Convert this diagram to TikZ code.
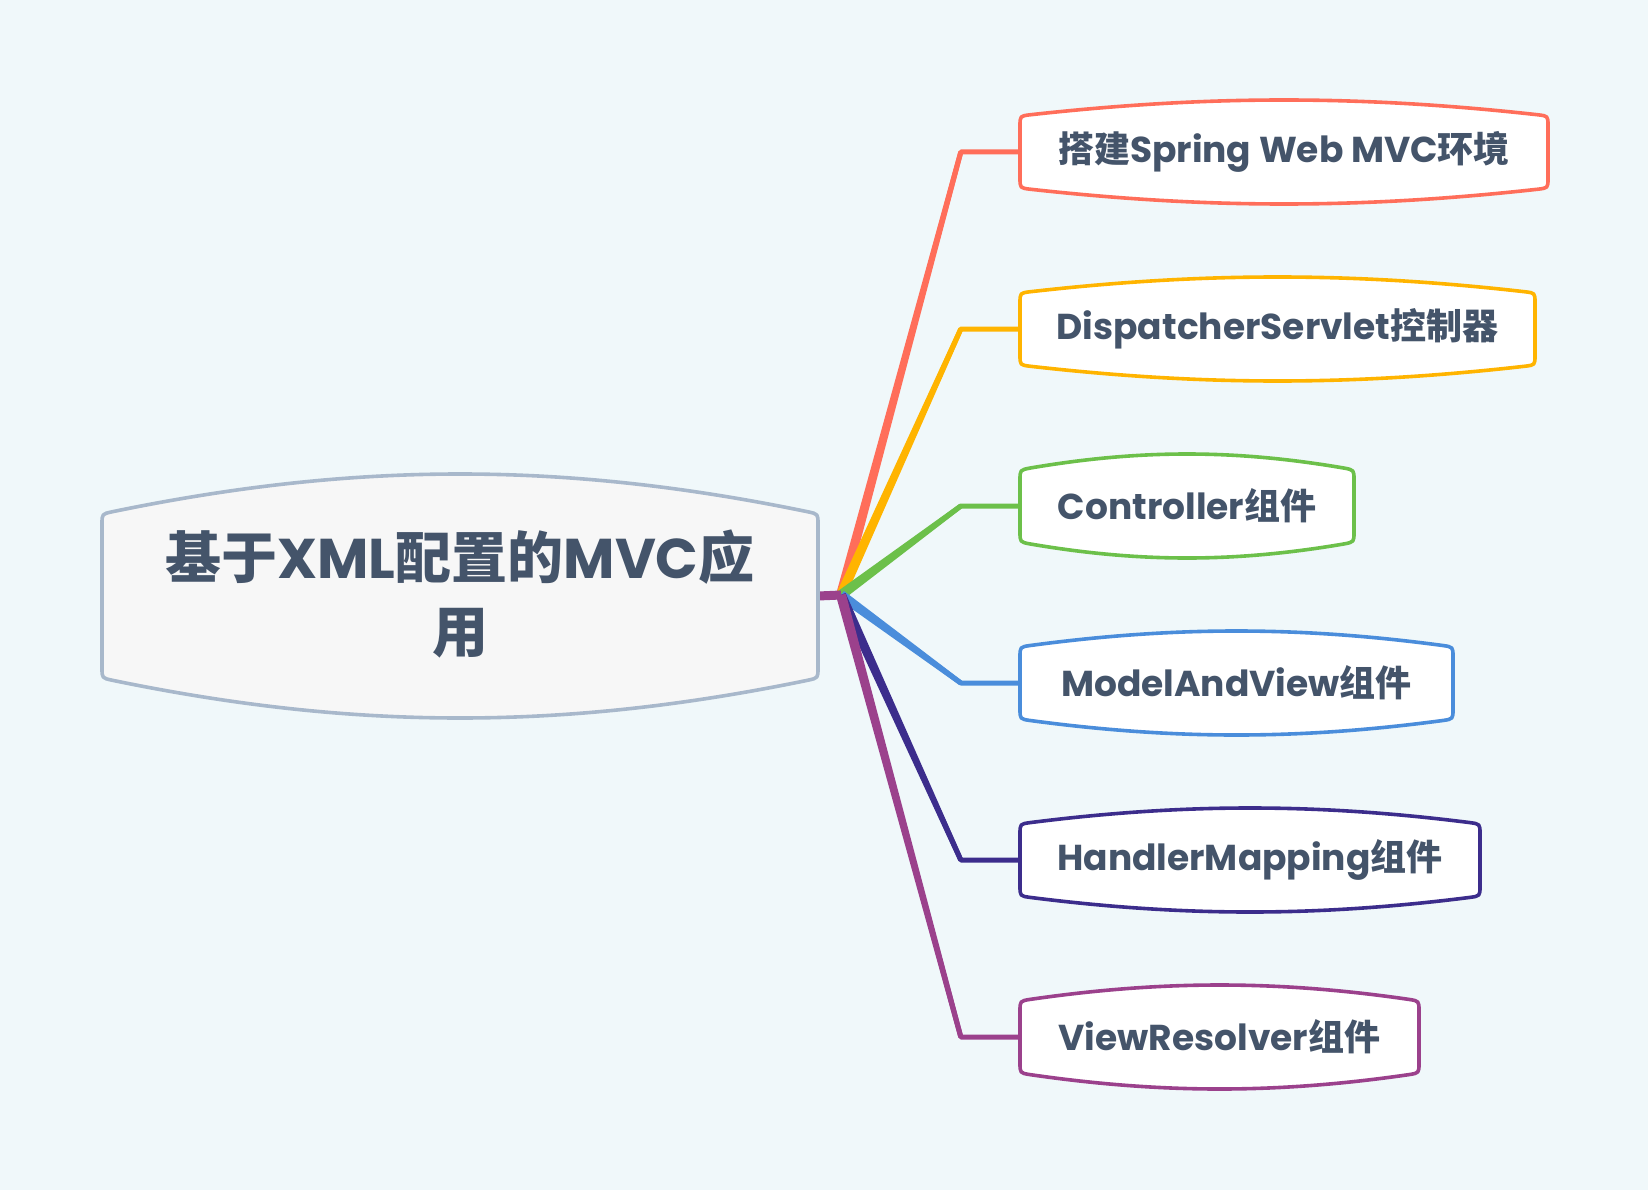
\documentclass[tikz,border=0pt]{standalone}
\usepackage{fontspec}
\setmainfont{Poppins}
\newfontfamily\cjk{Noto Sans CJK SC}
\usetikzlibrary{calc}
\definecolor{bgc}{RGB}{240,248,250}
\definecolor{txt}{RGB}{68,84,106}
\definecolor{rootline}{RGB}{168,184,203}
\definecolor{rootfill}{RGB}{247,247,247}
\definecolor{cred}{RGB}{255,110,90}
\definecolor{corange}{RGB}{255,180,0}
\definecolor{cgreen}{RGB}{108,192,74}
\definecolor{cblue}{RGB}{74,141,219}
\definecolor{cdpurple}{RGB}{60,45,140}
\definecolor{cpurple}{RGB}{155,65,140}
\newcommand\zh[1]{{\cjk #1}}
\pgfdeclarelayer{bg}
\pgfsetlayers{bg,main}
\tikzset{
  boxline/.style={line width=3.6pt, line join=round},
  conn/.style={line width=5pt, line join=round},
  childtext/.style={text=txt, font=\bfseries\fontsize{36}{42}\selectfont, inner sep=0pt, anchor=center},
  roottext/.style={text=txt, font=\bfseries\fontsize{56}{74}\selectfont, inner sep=0pt, align=center, anchor=center}
}
% #1 name, #2 line colour, #3 fill, #4 left, #5 right, #6 centre y, #7 half height, #8 bulge, #9 text
\newcommand\bulgebox[9]{%
  \pgfmathsetmacro\bT{#6-#7}%
  \pgfmathsetmacro\bB{#6+#7}%
  \pgfmathsetmacro\bK{0.35*(#5-#4-20)}%
  \pgfmathsetmacro\bS{10*(4/3*#8)/\bK}%
  \pgfmathsetmacro\bH{(#8-\bS)*4/3}%
  \pgfmathsetmacro\bCx{(#4+#5)/2}%
  \pgfmathsetmacro\bW{#5-#4}%
  \pgfmathsetmacro\bHH{2*#7}%
  \draw[boxline, draw=#2, fill=#3]
    (#4,\bT+10) .. controls (#4,\bT) .. (#4+10,\bT-\bS)
    .. controls (#4+10+\bK,\bT-\bS-\bH) and (#5-10-\bK,\bT-\bS-\bH) .. (#5-10,\bT-\bS)
    .. controls (#5,\bT) .. (#5,\bT+10)
    -- (#5,\bB-10) .. controls (#5,\bB) .. (#5-10,\bB+\bS)
    .. controls (#5-10-\bK,\bB+\bS+\bH) and (#4+10+\bK,\bB+\bS+\bH) .. (#4+10,\bB+\bS)
    .. controls (#4,\bB) .. (#4,\bB-10) -- cycle;
  \node[minimum width=\bW pt, minimum height=\bHH pt, inner sep=0pt] (#1) at (\bCx,#6) {};
  #9
}
\begin{document}
\begin{tikzpicture}[x=1pt,y=-1pt]
\begin{pgfonlayer}{bg}
\fill[bgc] (0,0) rectangle (1648,1190);
\end{pgfonlayer}
\useasboundingbox (0,0) rectangle (1648,1190);

\bulgebox{root}{rootline}{rootfill}{102}{818}{596}{82}{40}{\node[roottext] (roottxt) at (460,594) {\zh{基于}XML\zh{配置的}MVC\zh{应}\\\zh{用}};}
\bulgebox{c1}{cred}{white}{1020}{1548}{152}{36}{16}{\node[childtext] (t1) at (c1) {\zh{搭建}Spring Web MVC\zh{环境}};}
\bulgebox{c2}{corange}{white}{1020}{1535}{329}{36}{16}{\node[childtext] (t2) at (c2) {DispatcherServlet\zh{控制器}};}
\bulgebox{c3}{cgreen}{white}{1020}{1354}{506}{36}{16}{\node[childtext] (t3) at (c3) {Controller\zh{组件}};}
\bulgebox{c4}{cblue}{white}{1020}{1453}{683}{36}{16}{\node[childtext] (t4) at (c4) {ModelAndView\zh{组件}};}
\bulgebox{c5}{cdpurple}{white}{1020}{1480}{860}{36}{16}{\node[childtext] (t5) at (c5) {HandlerMapping\zh{组件}};}
\bulgebox{c6}{cpurple}{white}{1020}{1419}{1037}{36}{16}{\node[childtext] (t6) at (c6) {ViewResolver\zh{组件}};}

\coordinate (j) at (841,595);
\begin{pgfonlayer}{bg}
\foreach \n/\c in {c1/cred, c2/corange, c3/cgreen, c4/cblue, c5/cdpurple, c6/cpurple} {
  \coordinate (e) at ($(\n.west)+(-59,0)$);
  \fill[\c] ($(j)!5pt!90:(e)$) -- ($(e)!2.5pt!-90:(j)$) -- ($(e)!2.5pt!90:(j)$) -- ($(j)!5pt!-90:(e)$) -- cycle;
  \draw[conn, \c] (j) -- (e) -- (\n.west);
}
\draw[cpurple, line width=9pt] (root.east) -- (j);
\end{pgfonlayer}
\end{tikzpicture}
\end{document}
